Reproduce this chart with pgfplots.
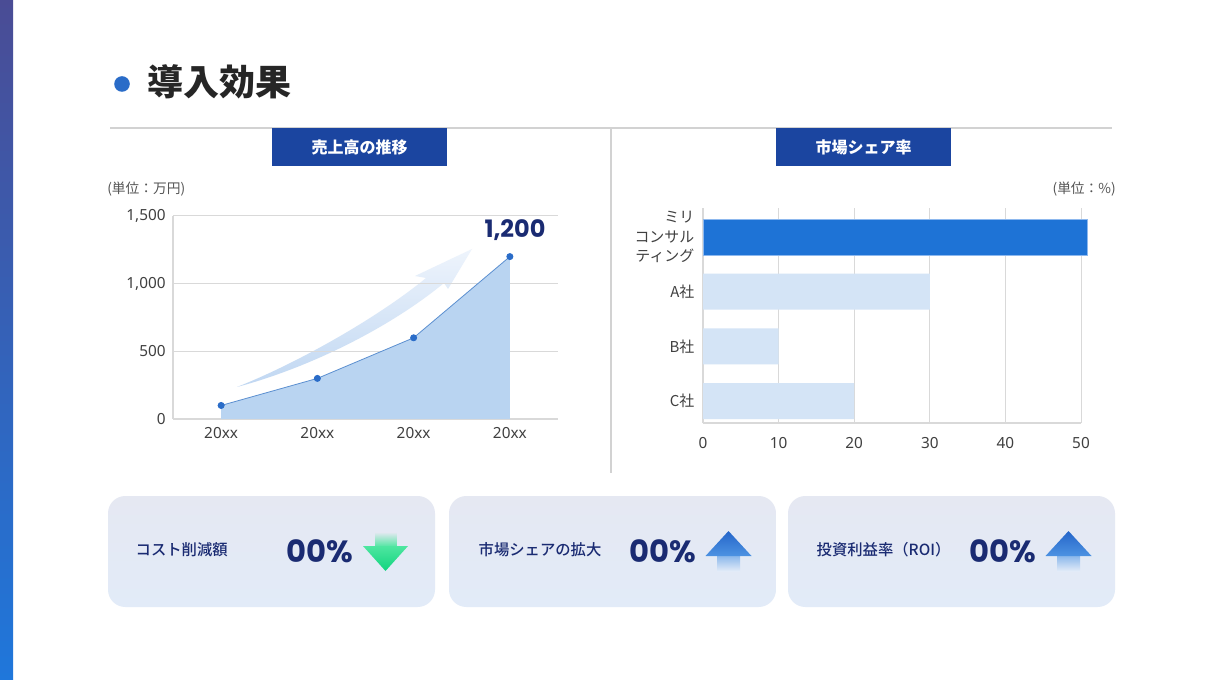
\documentclass[border=0pt]{standalone}
\usepackage{fontspec}
\setmainfont{Noto Sans CJK JP}
\newfontfamily\cjkmed{Noto Sans CJK JP Medium}
\newfontfamily\pop{Poppins}
\newfontfamily\lat{Noto Sans}
\usepackage{pgfplots}
\usepackage{pgfplotstable}
\pgfplotsset{compat=1.18}

\definecolor{navy}{HTML}{1A2B72}
\definecolor{boxblue}{HTML}{1B45A0}
\definecolor{tickgray}{HTML}{404040}
\definecolor{unitgray}{HTML}{555555}
\definecolor{gridgray}{HTML}{D9D9D9}
\definecolor{areablue}{HTML}{B9D4F1}
\definecolor{lineblue}{HTML}{5B8FD0}
\definecolor{markblue}{HTML}{2A6CC8}
\definecolor{mainbar}{HTML}{1E73D6}
\definecolor{mainbarborder}{HTML}{8DB8EE}
\definecolor{lightbar}{HTML}{D4E4F6}
\definecolor{stripTop}{HTML}{4A4C95}
\definecolor{stripBot}{HTML}{1F77DB}
\definecolor{kpiTop}{HTML}{E5E8F2}
\definecolor{kpiBot}{HTML}{E2EBF8}
\definecolor{greenA}{HTML}{4EE6A0}
\definecolor{greenB}{HTML}{10D47E}
\definecolor{upA}{HTML}{2565C9}
\definecolor{upB}{HTML}{4D93E2}
\definecolor{arrowA}{HTML}{EEF4FC}
\definecolor{arrowB}{HTML}{C0D7F2}

\pgfplotstableread{
x y
0 100
1 300
2 600
3 1200
}\salesdata

\pgfplotstableread{
y v
0 20
1 10
2 30
}\otherdata

\pgfplotstableread{
y v
3 50.8
}\maindata

\begin{document}
\begin{tikzpicture}[x=0.75pt,y=-0.75pt]
% canvas
\fill[white] (0,0) rectangle (1209,680);
\shade[top color=stripTop,bottom color=stripBot] (0,0) rectangle (13,680);

% title
\fill[markblue] (122,84) circle (7.8);
\node[anchor=west, font=\fontsize{27}{31}\selectfont\bfseries, text=black!85] at (143,82) {導入効果};

% separators
\draw[gray!35, line width=0.9pt] (110,128) -- (1112,128);
\draw[gray!35, line width=0.9pt] (611,128) -- (611,473);

% section headers
\fill[boxblue] (272,128) rectangle (447,166);
\node[font=\fontsize{12}{14}\selectfont\bfseries, text=white] at (359.5,147) {売上高の推移};
\fill[boxblue] (776,128) rectangle (951,166);
\node[font=\fontsize{12}{14}\selectfont\bfseries, text=white] at (863.5,147) {市場シェア率};

% unit labels
\node[anchor=west, font=\fontsize{10.3}{12}\selectfont, text=unitgray, inner sep=0] at (107,189) {(単位：万円)};
\node[anchor=east, font=\fontsize{10.3}{12}\selectfont, text=unitgray, inner sep=0] at (1116,189) {(単位：\%)};

% decorative growth arrow
\shade[left color=arrowA, right color=arrowB, shading angle=0]
  (237,387) .. controls (300,362) and (380,316) .. (426,278)
  -- (415,276) -- (472,249) -- (448,289) -- (444,283)
  .. controls (392,326) and (312,367) .. (237,387) -- cycle;

% left chart: sales
\begin{axis}[
  at={(129.75pt,-314.25pt)}, anchor=south west,
  width=288.75pt, height=152.25pt, scale only axis,
  xmin=-0.5, xmax=3.5, ymin=0, ymax=1500,
  xtick={0,1,2,3}, xticklabels={20xx,20xx,20xx,20xx},
  ytick={0,500,1000,1500},
  ymajorgrids, grid style={gridgray, line width=0.75pt},
  axis x line*=bottom, axis y line*=left,
  axis line style={gridgray, line width=0.9pt},
  major tick length=0pt,
  tick label style={font=\lat\fontsize{11.5}{13}\selectfont, text=tickgray},
  /pgf/number format/assume math mode=true,
  /pgf/number format/1000 sep={,},
  xticklabel style={yshift=-3pt},
  yticklabel style={xshift=-2pt},
  clip=false,
]
\addplot[fill=areablue, draw=none] table[x=x,y=y]{\salesdata} \closedcycle;
\addplot[color=lineblue, line width=0.6pt, mark=*, mark size=2.3pt,
  mark options={fill=markblue, draw=markblue}] table[x=x,y=y]{\salesdata};
\end{axis}

\node[font=\pop\fontsize{18}{20}\selectfont\bfseries, text=navy] at (515,230) {1,200};

% right chart: market share
\begin{axis}[
  at={(527.25pt,-317.25pt)}, anchor=south west,
  width=283.5pt, height=161.25pt, scale only axis,
  xmin=0, xmax=50, ymin=-0.4, ymax=3.53,
  xtick={0,10,20,30,40,50},
  ytick={0,1,2,3},
  yticklabels={C社,B社,A社,{ミリ\\コンサル\\ティング}},
  xmajorgrids, grid style={gridgray, line width=0.75pt},
  axis x line*=bottom, axis y line*=left,
  axis line style={gridgray, line width=0.9pt},
  major tick length=0pt,
  xticklabel style={font=\lat\fontsize{11.5}{13}\selectfont, text=tickgray, yshift=-7.5pt},
  yticklabel style={font=\fontsize{11.2}{14.8}\selectfont, text=tickgray, align=right, xshift=-3pt},
  /pgf/number format/assume math mode=true,
  clip=false,
]
\addplot[xbar, bar shift=0pt, bar width=27pt, fill=lightbar, draw=none] table[x=v,y=y]{\otherdata};
\addplot[xbar, bar shift=0pt, bar width=27pt, fill=mainbar, draw=mainbarborder, line width=0.6pt] table[x=v,y=y]{\maindata};
\end{axis}

% KPI cards
\foreach \bx in {108,449,788} {
  \shade[rounded corners=13pt, top color=kpiTop, bottom color=kpiBot] (\bx,496) rectangle ++(327,111);
}
\node[anchor=west, font=\cjkmed\fontsize{11.5}{13}\selectfont, text=navy] at (131,550) {コスト削減額};
\node[anchor=west, font=\cjkmed\fontsize{11.5}{13}\selectfont, text=navy] at (474,550) {市場シェアの拡大};
\node[anchor=west, font=\cjkmed\fontsize{11.5}{13}\selectfont, text=navy] at (812,550) {投資利益率（ROI）};
\node[font=\pop\fontsize{23}{26}\selectfont\bfseries, text=navy] at (320,551) {00\%};
\node[font=\pop\fontsize{23}{26}\selectfont\bfseries, text=navy] at (663,551) {00\%};
\node[font=\pop\fontsize{23}{26}\selectfont\bfseries, text=navy] at (1003,551) {00\%};

% down arrow (green)
\shade[top color=kpiTop, bottom color=greenA] (375,532) rectangle (396.5,547);
\shade[top color=greenA, bottom color=greenB] (363,546) -- (408,546) -- (385.5,571) -- cycle;
% up arrows (blue)
\foreach \cx in {728.5,1068.5} {
  \shade[top color=upB!60!kpiBot, bottom color=kpiBot] (\cx-11.5,555.5) rectangle (\cx+11.5,571);
  \shade[top color=upA, bottom color=upB] (\cx-23,556) -- (\cx+23,556) -- (\cx,531) -- cycle;
}
\end{tikzpicture}
\end{document}
